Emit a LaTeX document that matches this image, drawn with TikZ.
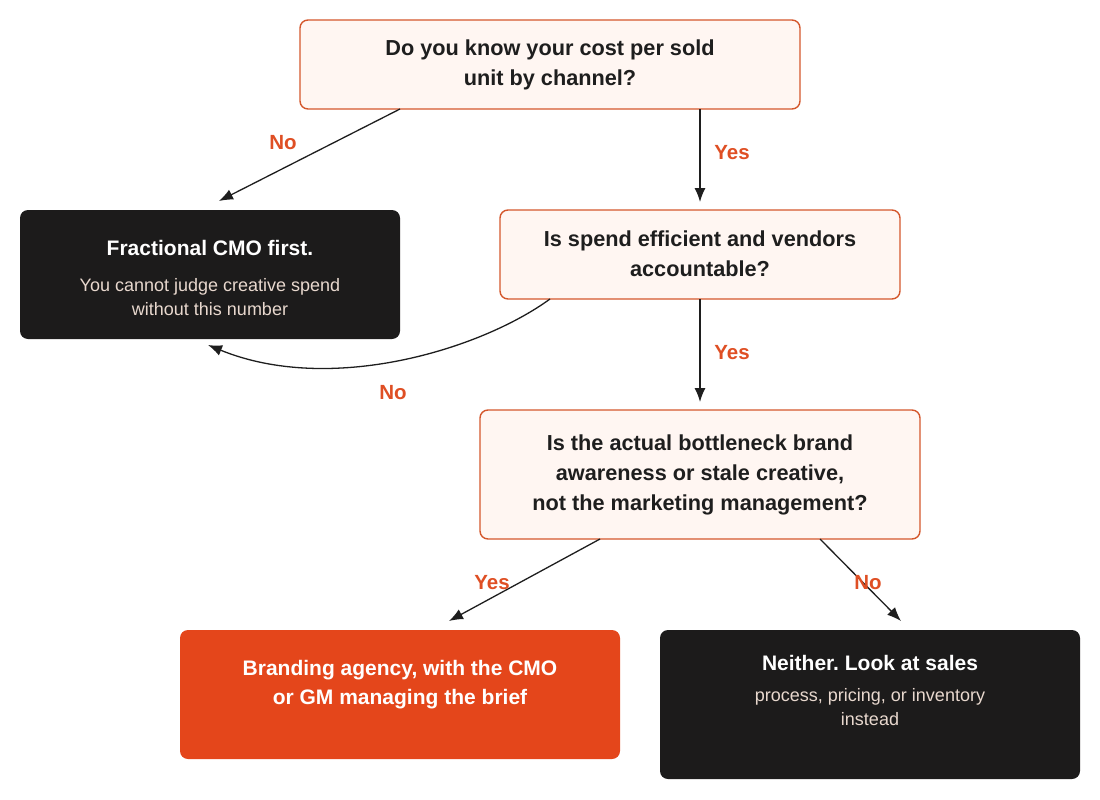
\documentclass[tikz,border=0pt]{standalone}
\usepackage{fontspec}
\setmainfont{Liberation Sans}
\usetikzlibrary{arrows.meta}
\definecolor{qfill}{HTML}{FFF6F2}
\definecolor{qdraw}{HTML}{D4572C}
\definecolor{dark}{HTML}{1C1B1B}
\definecolor{sub}{HTML}{E8D8CE}
\definecolor{orng}{HTML}{E4461B}
\definecolor{lbl}{HTML}{DF4F24}
\definecolor{txt}{HTML}{1E1E1E}
\frenchspacing
\begin{document}
\begin{tikzpicture}[x=1pt,y=-1pt,
  qbox/.style={draw=qdraw,line width=1.4pt,fill=qfill,rounded corners=8pt},
  dbox/.style={fill=dark,rounded corners=8pt},
  obox/.style={fill=orng,rounded corners=8pt},
  qtext/.style={font=\fontsize{21.7}{30}\selectfont\bfseries,text=txt,align=center},
  ttext/.style={font=\fontsize{21}{24}\selectfont\bfseries,text=white,align=center},
  stext/.style={font=\fontsize{18}{24}\selectfont,text=sub,align=center},
  otext/.style={font=\fontsize{21}{29}\selectfont\bfseries,text=white,align=center},
  lab/.style={font=\fontsize{20.5}{22}\selectfont\bfseries,text=lbl},
  arr/.style={draw=txt,line width=1.3pt,-{Latex[length=14pt,width=11pt]}}]
\useasboundingbox (0,0) rectangle (1100,800);
% boxes
\path[qbox] (300,20) rectangle (800,109);
\node[qtext] (q1) at (550,65) {Do you know your cost per sold\\unit by channel?};
\path[dbox] (20,210) rectangle (400,339);
\node[ttext] (b1t) at (210,248) {Fractional CMO first.};
\node[stext] (b1s) at (210,297) {You cannot judge creative spend\\without this number};
\path[qbox] (500,210) rectangle (900,299);
\node[qtext] (q2) at (700,254) {Is spend efficient and vendors\\accountable?};
\path[qbox] (480,410) rectangle (920,539);
\node[qtext] (q3) at (700,475) {Is the actual bottleneck brand\\awareness or stale creative,\\not the marketing management?};
\path[obox] (180,630) rectangle (620,759);
\node[otext] (o1) at (400,685) {Branding agency, with the CMO\\or GM managing the brief};
\path[dbox] (660,630) rectangle (1080,779);
\node[ttext] (b3t) at (870,663) {Neither. Look at sales};
\node[stext] (b3s) at (870,707) {process, pricing, or inventory\\instead};
% anchors
\coordinate (a1s) at (400,109); \coordinate (a1e) at (219,201);
\coordinate (a2s) at (700,109); \coordinate (a2e) at (700,202);
\coordinate (a3s) at (550,299); \coordinate (a3e) at (208,345);
\coordinate (a4s) at (700,299); \coordinate (a4e) at (700,402);
\coordinate (a5s) at (600,539); \coordinate (a5e) at (449,621);
\coordinate (a6s) at (820,539); \coordinate (a6e) at (901,621);
\draw[arr] (a1s) -- (a1e);
\draw[arr] (a2s) -- (a2e);
\draw[arr] (a3s) .. controls (480,350) and (330,395) .. (a3e);
\draw[arr] (a4s) -- (a4e);
\draw[arr] (a5s) -- (a5e);
\draw[arr] (a6s) -- (a6e);
\node[lab] (l1) at (283,143) {No};
\node[lab] (l2) at (732,153) {Yes};
\node[lab] (l3) at (393,393) {No};
\node[lab] (l4) at (732,353) {Yes};
\node[lab] (l5) at (492,583) {Yes};
\node[lab] (l6) at (868,583) {No};
\end{tikzpicture}
\end{document}
